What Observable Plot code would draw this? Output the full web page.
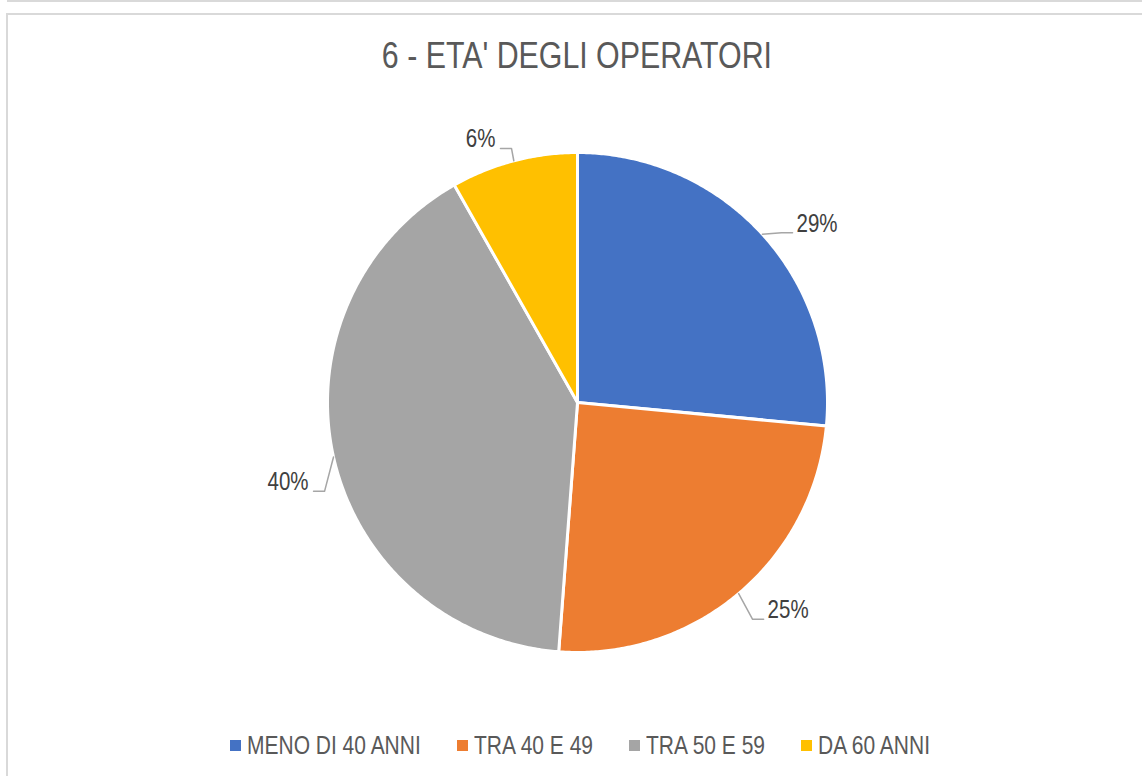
<!DOCTYPE html>
<html>
<head>
<meta charset="utf-8">
<script src="https://cdn.jsdelivr.net/npm/d3@7"></script>
<script src="https://cdn.jsdelivr.net/npm/@observablehq/plot@0.6"></script>
<style>
  html, body { margin: 0; padding: 0; background: #fff; }
  body { width: 1142px; height: 776px; position: relative; overflow: hidden;
         font-family: "Liberation Sans Narrow", "Arial Narrow", "Liberation Sans", sans-serif; }
  #topline { position: absolute; left: 7px; right: 0; top: 0; height: 2px; background: #d9d9d9; }
  #frame { position: absolute; left: 6px; top: 13px; width: 1200px; height: 820px;
           border: 2px solid #d9d9d9; box-sizing: border-box; }
  #title { position: absolute; left: 0; width: 1154px; top: 37px; text-align: center;
           font-size: 37px; line-height: 37px; color: #595959; white-space: nowrap; }
  #title span { display: inline-block; transform: scaleX(0.82); transform-origin: center; }
  #chart { position: absolute; left: 0; top: 100px; }
  #legend { position: absolute; left: 0; width: 1160px; top: 733px; display: flex;
            justify-content: center; gap: 36px; font-size: 25.6px; line-height: 25px; color: #595959; }
  .item { display: flex; align-items: center; gap: 6px; white-space: nowrap; }
  .sw { width: 11px; height: 11px; display: inline-block; }
  .tx { display: inline-block; transform: scaleX(0.82); transform-origin: left center; }
</style>
</head>
<body>
<div id="topline"></div>
<div id="frame"></div>
<div id="title"><span>6 - ETA' DEGLI OPERATORI</span></div>
<div id="chart"></div>
<div id="legend"></div>
<script>
// ---- data ----
const categories = ["MENO DI 40 ANNI", "TRA 40 E 49", "TRA 50 E 59", "DA 60 ANNI"];
const values = [26.5, 24.7, 40.6, 8.2];          // slice sizes as drawn
const labels = ["29%", "25%", "40%", "6%"];      // printed data labels
const colors = ["#4472C4", "#ED7D31", "#A5A5A5", "#FFC000"];

// ---- layout (label placement, relative to slice mid-angle) ----
const labelLayout = [
  {dAngle: 4.0, r: 1.096, side: "right"},
  {dAngle: -0.5, r: 1.143, side: "right"},
  {dAngle: -6.0, r: 1.114, side: "left"},
  {dAngle: -2.1, r: 1.062, side: "left"}
];
const R = 250; // pixel radius
const NARROW = 0.82;

const total = d3.sum(values);
const rad = a => a * Math.PI / 180;
const polar = (deg, r) => ({x: r * Math.sin(rad(deg)), y: r * Math.cos(rad(deg))});

// build slice polygons from values
let start = 0;
const slicePts = [];
const slices = categories.map((c, i) => {
  const a0 = start, a1 = start + values[i] / total * 360;
  start = a1;
  slicePts.push({cat: c, x: 0, y: 0});
  const n = Math.max(2, Math.ceil((a1 - a0) / 0.5));
  for (let k = 0; k <= n; k++) {
    const p = polar(a0 + (a1 - a0) * k / n, 1);
    slicePts.push({cat: c, x: p.x, y: p.y});
  }
  return {cat: c, a0, a1, mid: (a0 + a1) / 2};
});

// labels and leader lines
const labelData = [];
const leaderPts = [];
slices.forEach((s, i) => {
  const L = labelLayout[i];
  const anchor = polar(s.mid + L.dAngle, L.r);
  const sgn = L.side === "right" ? 1 : -1;
  const edge = polar(s.mid, 1);
  const elbow = {x: anchor.x - sgn * 11 / R, y: anchor.y};
  leaderPts.push({id: i, ...edge}, {id: i, ...elbow}, {id: i, ...anchor});
  labelData.push({text: labels[i], x: anchor.x, y: anchor.y, side: L.side});
});

const chart = Plot.plot({
  width: 1142,
  height: 600,
  marginLeft: 327,
  marginRight: 315,
  marginTop: 52,
  marginBottom: 48,
  x: {domain: [-1, 1], axis: null},
  y: {domain: [-1, 1], axis: null},
  color: {domain: categories, range: colors},
  style: {fontFamily: '"Liberation Sans Narrow", "Arial Narrow", "Liberation Sans", sans-serif', background: "transparent"},
  marks: [
    Plot.line(slicePts, {x: "x", y: "y", z: "cat", fill: "cat", stroke: "#ffffff", strokeWidth: 3,
      strokeLinejoin: "round", curve: "linear-closed"}),
    Plot.line(leaderPts, {x: "x", y: "y", z: "id", stroke: "#a6a6a6", strokeWidth: 1.5, curve: "linear"}),
    Plot.text(labelData.filter(d => d.side === "right"), {x: "x", y: "y", text: "text", textAnchor: "start",
      lineAnchor: "bottom", dx: 4, dy: -1, fontSize: 25, fill: "#404040"}),
    Plot.text(labelData.filter(d => d.side === "left"), {x: "x", y: "y", text: "text", textAnchor: "end",
      lineAnchor: "bottom", dx: -5, dy: -1, fontSize: 25, fill: "#404040"})
  ]
});
// condense label glyphs (no narrow font installed)
d3.select(chart).selectAll("g[aria-label='text'] text").each(function() {
  const t = this.getAttribute("transform") || "";
  this.setAttribute("transform", t + ` scale(${NARROW},1)`);
});
document.getElementById("chart").appendChild(chart);

// legend
const legend = document.getElementById("legend");
const spans = [];
categories.forEach((c, i) => {
  const it = document.createElement("div");
  it.className = "item";
  const sw = document.createElement("span");
  sw.className = "sw";
  sw.style.background = colors[i];
  const tx = document.createElement("span");
  tx.className = "tx";
  tx.textContent = c;
  it.appendChild(sw); it.appendChild(tx);
  legend.appendChild(it);
  spans.push(tx);
});
spans.forEach(s => { s.style.marginRight = (-(1 - NARROW) * s.getBoundingClientRect().width / NARROW) + "px"; });
</script>
</body>
</html>
